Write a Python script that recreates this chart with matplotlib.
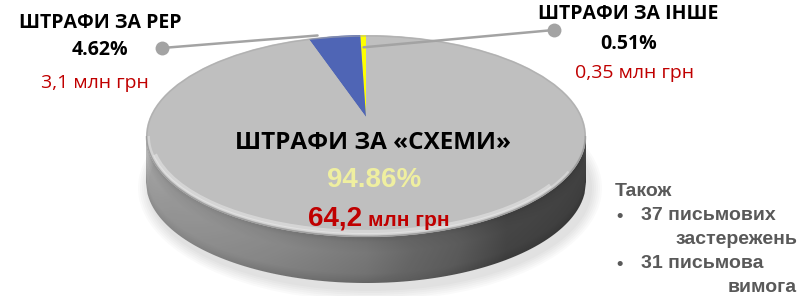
import numpy as np
import matplotlib.pyplot as plt
from matplotlib.patches import Ellipse, Polygon, Arc

# дані діаграми (порядок проти годинникової стрілки від 12-ї години)
titles = ['ШТРАФИ ЗА ІНШЕ', 'ШТРАФИ ЗА РЕР', 'ШТРАФИ ЗА «СХЕМИ»']
shares = [0.51, 4.62, 94.86]
pct_labels = ['0.51%', '4.62%', '94.86%']
amount_labels = ['0,35 млн грн', '3,1 млн грн', '64,2']
amount_unit = 'млн грн'
slice_colors = ['#ffff00', '#4f65b5', '#bfbfbf']
extra_head = 'Також'
extra_items = [['37 письмових', 'застережень'], ['31 письмова', 'вимога']]

W, H = 802, 296
CAL = ['Open Sans', 'DejaVu Sans']
ARI = ['Liberation Sans', 'DejaVu Sans']

fig = plt.figure(figsize=(W / 100, H / 100), dpi=100)
fig.patch.set_facecolor('white')

def px_axes(zorder):
    a_ = fig.add_axes([0, 0, 1, 1])
    a_.set_xlim(0, W)
    a_.set_ylim(H, 0)
    a_.axis('off')
    a_.set_zorder(zorder)
    a_.patch.set_alpha(0)
    return a_

bg = px_axes(0)

# геометрія "3D" диска
cx, cy = 366, 136
ra, rb = 220, 101
depth = 46

# м'яка тінь
for k in range(6):
    bg.add_patch(Ellipse((cx + 4, cy + depth + 6), 2 * ra + 4 + 4 * k, 2 * rb + 4 + 4 * k,
                         facecolor='black', alpha=0.018, linewidth=0))

# бокова стінка з градієнтом
xs = np.linspace(cx - ra, cx + ra, 300)
ytop = cy + rb * np.sqrt(np.clip(1 - ((xs - cx) / ra) ** 2, 0, 1))
side_pts = np.vstack([np.column_stack([xs, ytop]),
                      np.column_stack([xs[::-1], ytop[::-1] + depth])])
side = Polygon(side_pts, closed=True, facecolor='none', edgecolor='none')
bg.add_patch(side)

gx = np.arange(cx - ra, cx + ra + 1)
gy = np.arange(cy, cy + rb + depth + 1)
GX, GY = np.meshgrid(gx, gy)
u = (GX - (cx - ra)) / (2 * ra)
base = np.interp(u, [0, 0.06, 0.25, 0.5, 0.7, 0.82, 1.0],
                 [0.70, 0.66, 0.60, 0.52, 0.40, 0.31, 0.29])
yt = cy + rb * np.sqrt(np.clip(1 - ((GX - cx) / ra) ** 2, 0, 1))
t = np.clip((GY - yt) / depth, 0, 1)
vert = np.interp(t, [0, 0.12, 0.35, 0.8, 1.0], [0.92, 1.0, 1.04, 1.0, 0.9])
shade = np.clip(base * vert, 0, 1)
img = np.dstack([shade, shade, shade])
im = bg.imshow(img, extent=(gx[0], gx[-1], gy[-1], gy[0]), origin='upper',
               interpolation='bilinear', aspect='auto')
im.set_clip_path(side)

# верхня грань
top_face = Ellipse((cx, cy), 2 * ra, 2 * rb, facecolor=slice_colors[2], edgecolor='none')
bg.add_patch(top_face)
bg.set_xlim(0, W)
bg.set_ylim(H, 0)

# кругова діаграма на верхній грані (перспектива: центр вище)
pcx, pcy = 366, 117
pa, pb = 180, 82
pax = fig.add_axes([(pcx - pa) / W, (H - (pcy + pb)) / H, 2 * pa / W, 2 * pb / H])
pax.set_zorder(1)
wedges, _ = pax.pie(shares, colors=slice_colors, startangle=90, counterclock=True,
                    radius=1, wedgeprops=dict(linewidth=0))
pax.set_aspect('auto')
pax.set_xlim(-1, 1)
pax.set_ylim(-1, 1)
pax.axis('off')
for w in wedges:
    w.set_clip_path(top_face)

fg = px_axes(2)

# фаска по краю верхньої грані
fg.add_patch(Arc((cx, cy), 2 * ra - 2, 2 * rb - 2, theta1=0, theta2=360,
                 color='#a9a9a9', linewidth=1.0, alpha=0.6))
fg.add_patch(Arc((cx, cy), 2 * ra - 10, 2 * rb - 10, theta1=15, theta2=175,
                 color='white', linewidth=3, alpha=0.35))
fg.add_patch(Arc((cx, cy), 2 * ra - 5, 2 * rb - 5, theta1=10, theta2=180,
                 color='white', linewidth=2, alpha=0.3))
fg.add_patch(Arc((cx, cy), 2 * ra - 1, 2 * rb - 1, theta1=0, theta2=180,
                 color='#8a8a8a', linewidth=1.2, alpha=0.5))

# виноски
def pie_point(ang_deg, r):
    p = pax.transData.transform((r * np.cos(np.radians(ang_deg)), r * np.sin(np.radians(ang_deg))))
    return fg.transData.inverted().transform(p)

cum = np.cumsum([0] + shares)
mid = 90 + 360 * (cum[:-1] + cum[1:]) / 2 / 100
fig.canvas.draw()
p_other = pie_point(mid[0], 0.85)
p_rer = pie_point(mid[1] + 5, 1.03)
dot_other = (554, 30)
dot_rer = (162, 48)
line_c = '#a3a3a3'
for p, d in [(p_other, dot_other), (p_rer, dot_rer)]:
    fg.plot([p[0], d[0]], [p[1], d[1]], color=line_c, linewidth=1.8, solid_capstyle='round')
    fg.plot([d[0]], [d[1]], 'o', color=line_c, markersize=10, markeredgewidth=0)

# підписи
fg.text(100, 23, titles[1], family=CAL, weight='bold', fontsize=14, ha='center', va='center')
fg.text(100, 50, pct_labels[1], family=CAL, weight='bold', fontsize=14, ha='center', va='center')
fg.text(95, 83, amount_labels[1], family=CAL, fontsize=14, color='#c00000', ha='center', va='center')

fg.text(628, 14, titles[0], family=CAL, weight='bold', fontsize=14, ha='center', va='center')
fg.text(629, 44, pct_labels[0], family=CAL, weight='bold', fontsize=14, ha='center', va='center')
fg.text(635, 73, amount_labels[0], family=CAL, fontsize=14, color='#c00000', ha='center', va='center')

fg.text(373, 143, titles[2], family=CAL, weight='bold', fontsize=17.5, ha='center', va='center')
fg.text(374, 180, pct_labels[2], family=ARI, weight='bold', fontsize=20, color='#efefa0',
        ha='center', va='center')
fg.text(362, 219, amount_labels[2], family=ARI, weight='bold', fontsize=20, color='#c00000',
        ha='right', va='center')
fg.text(368, 221, amount_unit, family=ARI, weight='bold', fontsize=15, color='#c00000',
        ha='left', va='center')

gray_t = '#595959'
fg.text(615, 191, extra_head, family=ARI, weight='bold', fontsize=14, color=gray_t,
        ha='left', va='center')
bullet_y = [216, 264]
for (l1, l2), by in zip(extra_items, bullet_y):
    fg.text(620, by, '•', family=ARI, weight='bold', fontsize=13, color=gray_t, ha='center', va='center')
    fg.text(641, by, l1, family=ARI, weight='bold', fontsize=14, color=gray_t, ha='left', va='center')
    fg.text(797, by + 24, l2, family=ARI, weight='bold', fontsize=14, color=gray_t,
            ha='right', va='center')

fig.savefig('out.png', dpi=100, facecolor='white')
